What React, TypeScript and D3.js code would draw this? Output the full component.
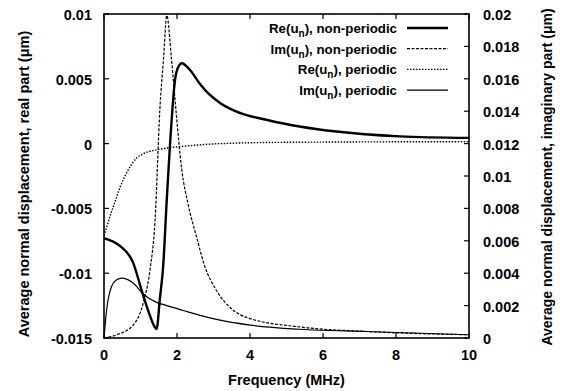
import React from "react";
import * as d3 from "d3";

// ---- Data ----
const xTicks = [0, 2, 4, 6, 8, 10];
const leftTicks = [0.01, 0.005, 0, -0.005, -0.01, -0.015];
const leftTickLabels = ["0.01", "0.005", "0", "-0.005", "-0.01", "-0.015"];
const rightTicks = [0, 0.002, 0.004, 0.006, 0.008, 0.01, 0.012, 0.014, 0.016, 0.018, 0.02];
const rightTickLabels = ["0", "0.002", "0.004", "0.006", "0.008", "0.01", "0.012", "0.014", "0.016", "0.018", "0.02"];

// Re(u_n), non-periodic  (left axis)
const reNonF = [0, 0.2, 0.44, 0.8, 1.05, 1.25, 1.36, 1.44, 1.53, 1.62, 1.72, 1.81, 1.95, 2.05, 2.13, 2.35, 2.63, 2.85, 3.2, 3.6, 4.5, 5.4, 6.3, 8.1, 10];
const reNonV = [-0.0073, -0.0075, -0.0079, -0.0092, -0.0115, -0.0132, -0.014, -0.0143, -0.012, -0.0095, -0.0043, 0, 0.005, 0.006, 0.0062, 0.0057, 0.0046, 0.0039, 0.0031, 0.0025, 0.0018, 0.0013, 0.00095, 0.00056, 0.00044];

// Im(u_n), non-periodic (right axis)
const imNonF = [0, 0.35, 0.8, 1.08, 1.26, 1.4, 1.53, 1.63, 1.72, 1.85, 1.97, 2.13, 2.3, 2.54, 2.75, 3.09, 3.55, 4, 5.37, 7.2, 10];
const imNonV = [0, 0.0002, 0.0008, 0.0022, 0.0042, 0.0073, 0.0141, 0.0172, 0.0199, 0.0172, 0.0141, 0.0104, 0.0083, 0.0062, 0.0045, 0.0029, 0.0017, 0.0012, 0.00068, 0.0004, 0.0002];

// Re(u_n), periodic (left axis)
const rePerF = [0, 0.1, 0.2, 0.3, 0.45, 0.65, 0.9, 1.07, 1.6, 2.2, 3.2, 5, 10];
const rePerV = [-0.0071, -0.0062, -0.0053, -0.0045, -0.0033, -0.0021, -0.0011, -0.0008, -0.0004, -0.0002, 0.0, 0.0001, 0.00015];

// Im(u_n), periodic (right axis)
const imPerF = [0, 0.07, 0.21, 0.35, 0.48, 0.8, 1.08, 1.44, 1.72, 2.17, 2.63, 3.18, 4, 5.37, 7.2, 10];
const imPerV = [0, 0.0017, 0.0032, 0.0036, 0.0037, 0.0034, 0.0027, 0.0022, 0.002, 0.0017, 0.0014, 0.0011, 0.0008, 0.00054, 0.0004, 0.0002];

const legendItems = [
  { pre: "Re(u", post: "), non-periodic", width: 2.4, dash: "" },
  { pre: "Im(u", post: "), non-periodic", width: 1.2, dash: "3,1.5" },
  { pre: "Re(u", post: "), periodic", width: 1.4, dash: "1.5,1.5" },
  { pre: "Im(u", post: "), periodic", width: 1.2, dash: "" },
];

const W = 565;
const H = 391;
const L = 104, R = 469, T = 14, B = 338;
const FONT = "'Liberation Sans', Arial, Helvetica, sans-serif";
const FS = 14.5;

export default function App() {
  const x = d3.scaleLinear().domain([0, 10]).range([L, R]);
  const yL = d3.scaleLinear().domain([-0.015, 0.01]).range([B, T]);
  const yR = d3.scaleLinear().domain([0, 0.02]).range([B, T]);

  const mk = (fs: number[], vs: number[], y: d3.ScaleLinear<number, number>) =>
    d3
      .line<number>()
      .x((_, i) => x(fs[i]))
      .y((v) => y(v))
      .curve(d3.curveMonotoneX)(vs) || "";

  const series = [
    { d: mk(reNonF, reNonV, yL), ...legendItems[0] },
    { d: mk(imNonF, imNonV, yR), ...legendItems[1] },
    { d: mk(rePerF, rePerV, yL), ...legendItems[2] },
    { d: mk(imPerF, imPerV, yR), ...legendItems[3] },
  ];

  const tl = 5;
  return (
    <svg
      width={W}
      height={H}
      style={{ position: "absolute", left: 0, top: 0, background: "#fff" }}
      fontFamily={FONT}
      fontWeight="bold"
    >
      <defs>
        <clipPath id="plot">
          <rect x={L} y={T} width={R - L} height={B - T} />
        </clipPath>
      </defs>
      <g clipPath="url(#plot)" fill="none" stroke="#000" strokeLinejoin="round">
        {series.map((s, i) => (
          <path key={i} d={s.d} strokeWidth={s.width} strokeDasharray={s.dash || undefined} />
        ))}
      </g>
      {/* frame */}
      <rect x={L} y={T} width={R - L} height={B - T} fill="none" stroke="#000" strokeWidth={1.6} />
      {/* x ticks */}
      {xTicks.map((t) => (
        <g key={"x" + t}>
          <line x1={x(t)} x2={x(t)} y1={B} y2={B - tl} stroke="#000" strokeWidth={1.2} />
          <line x1={x(t)} x2={x(t)} y1={T} y2={T + tl} stroke="#000" strokeWidth={1.2} />
          <text x={x(t)} y={B + 22} textAnchor="middle" fontSize={FS}>
            {t}
          </text>
        </g>
      ))}
      {/* left ticks */}
      {leftTicks.map((t, i) => (
        <g key={"l" + i}>
          <line x1={L} x2={L + tl} y1={yL(t)} y2={yL(t)} stroke="#000" strokeWidth={1.2} />
          <text x={L - 12} y={yL(t) + 6} textAnchor="end" fontSize={FS}>
            {leftTickLabels[i]}
          </text>
        </g>
      ))}
      {/* right ticks */}
      {rightTicks.map((t, i) => (
        <g key={"r" + i}>
          <line x1={R} x2={R - tl} y1={yR(t)} y2={yR(t)} stroke="#000" strokeWidth={1.2} />
          <text x={R + 14} y={yR(t) + 6} textAnchor="start" fontSize={FS}>
            {rightTickLabels[i]}
          </text>
        </g>
      ))}
      {/* axis titles */}
      <text x={(L + R) / 2} y={385} textAnchor="middle" fontSize={FS}>
        Frequency (MHz)
      </text>
      <text transform={`translate(29,${184}) rotate(-90)`} textAnchor="middle" fontSize={FS}>
        Average normal displacement, real part (μm)
      </text>
      <text transform={`translate(552,${177}) rotate(-90)`} textAnchor="middle" fontSize={14}>
        Average normal displacement, imaginary part (μm)
      </text>
      {/* legend */}
      {legendItems.map((it, i) => {
        const yy = 28 + i * 20.7;
        return (
          <g key={"lg" + i}>
            <text x={397} y={yy + 5} textAnchor="end" fontSize={13.3}>
              {it.pre}
              <tspan fontSize={10} dy={4}>n</tspan>
              <tspan dy={-4}>{it.post}</tspan>
            </text>
            <line
              x1={407}
              x2={448}
              y1={yy}
              y2={yy}
              stroke="#000"
              strokeWidth={it.width}
              strokeDasharray={it.dash || undefined}
            />
          </g>
        );
      })}
    </svg>
  );
}
